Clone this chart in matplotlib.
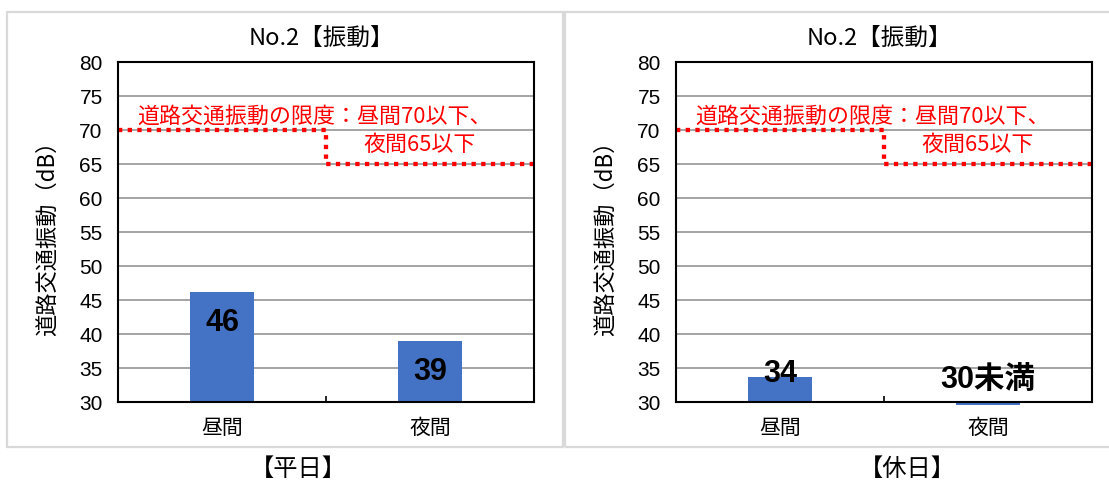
import matplotlib

matplotlib.use("Agg")
import matplotlib.pyplot as plt
from matplotlib.patches import Rectangle

plt.rcParams["font.family"] = ["Noto Sans CJK JP", "DejaVu Sans"]

# chart data
categories = ["昼間", "夜間"]
weekday_values = [46.2, 38.9]
holiday_values = [33.7, 29.55]  # 夜間 is below 30 (shown as "30未満")
weekday_labels = ["46", "39"]
holiday_labels = ["34", "30未満"]
panel_names = ["【平日】", "【休日】"]
chart_title = "No.2【振動】"
y_label = "道路交通振動（dB）"
limit_note = ["道路交通振動の限度：昼間70以下、", "夜間65以下"]
day_limit = 70
night_limit = 65
y_ticks = list(range(30, 81, 5))

W, H = 1109, 485
BAR_COLOR = "#4472C4"
NUM_FONT = ["Liberation Sans Narrow", "Liberation Sans", "DejaVu Sans"]
LABEL_FONT = ["Liberation Sans", "Noto Sans CJK JP", "DejaVu Sans"]


def draw_panel(ax, values, labels, label_offsets):
    x = list(range(len(categories)))
    ymin = y_ticks[0]
    ax.bar(
        x,
        [v - ymin for v in values],
        bottom=ymin,
        width=0.31,
        color=BAR_COLOR,
        zorder=2,
        clip_on=False,
    )
    ax.set_xlim(-0.5, 1.5)
    ax.set_ylim(y_ticks[0], y_ticks[-1])
    ax.set_yticks(y_ticks)
    ax.yaxis.grid(True, color="#8c8c8c", lw=1.1)
    ax.set_axisbelow(True)

    for spine in ax.spines.values():
        spine.set_color("black")
        spine.set_linewidth(1.5)
        spine.set_zorder(4)

    ax.tick_params(axis="y", length=0, pad=11, labelsize=15)
    for lab in ax.get_yticklabels():
        lab.set_fontfamily(NUM_FONT)

    ax.set_xticks(x, categories)
    ax.tick_params(axis="x", which="major", length=0, pad=10, labelsize=15)
    ax.set_xticks([0.5], minor=True)
    ax.tick_params(
        axis="x", which="minor", direction="in", length=4.5, width=1.2, color="black"
    )

    # road vibration limit: day 70, night 65
    ax.plot(
        [-0.5, 0.5, 0.5, 1.5],
        [day_limit, day_limit, night_limit, night_limit],
        color="red",
        lw=3.1,
        dashes=(1, 1.25),
        zorder=3,
        clip_on=False,
    )
    ax.text(0.046, 0.840, limit_note[0], transform=ax.transAxes,
            color="red", fontsize=15.8, ha="left", va="center")
    ax.text(0.589, 0.758, limit_note[1], transform=ax.transAxes,
            color="red", fontsize=15.8, ha="left", va="center")

    for xi, v, lab, off in zip(x, values, labels, label_offsets):
        ax.annotate(
            lab,
            (xi, max(v, ymin)),
            xytext=(0, off),
            textcoords="offset points",
            ha="center",
            va="center",
            fontsize=22,
            fontweight="bold",
            family=LABEL_FONT,
            color="black",
            zorder=5,
        )

    ax.text(0.49, 1.073, chart_title, transform=ax.transAxes,
            ha="center", va="center", fontsize=17)
    ax.set_ylabel(y_label, fontsize=16)
    ax.yaxis.set_label_coords(-0.142, 0.5)


fig = plt.figure(figsize=(W / 100, H / 100), dpi=100)

# chart frames
fig.add_artist(Rectangle((7 / W, 1 - 448 / H), 556 / W, 435 / H,
                         transform=fig.transFigure, fill=False,
                         ec="#d9d9d9", lw=1.6))
fig.add_artist(Rectangle((565 / W, 1 - 448 / H), 560 / W, 435 / H,
                         transform=fig.transFigure, fill=False,
                         ec="#d9d9d9", lw=1.6))

ax1 = fig.add_axes([118 / W, 1 - 403 / H, 416 / W, 340.3 / H])
ax2 = fig.add_axes([676 / W, 1 - 403 / H, 416 / W, 340.3 / H])

draw_panel(ax1, weekday_values, weekday_labels, [-21.5, -21.5])
draw_panel(ax2, holiday_values, holiday_labels, [3, 16.5])

fig.text(298 / W, 1 - 469 / H, panel_names[0], fontsize=17.5, ha="center", va="center")
fig.text(907 / W, 1 - 469 / H, panel_names[1], fontsize=17.5, ha="center", va="center")

fig.savefig("out.png", dpi=100)
